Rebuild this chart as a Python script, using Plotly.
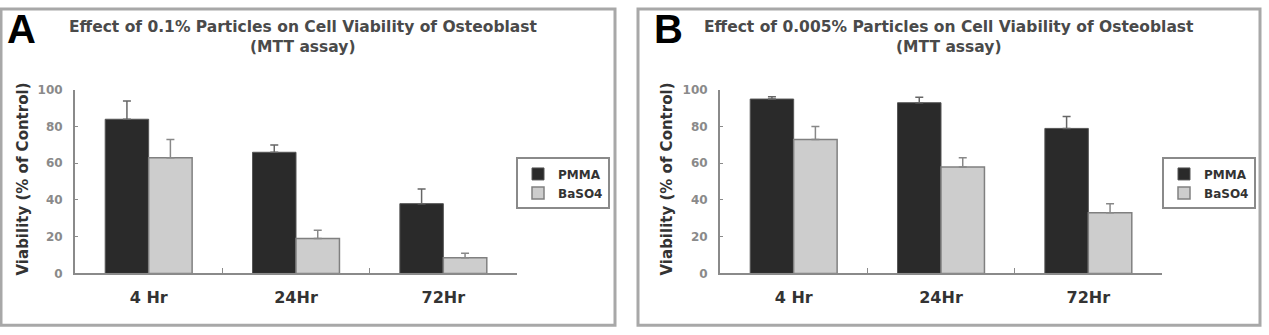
import plotly.graph_objects as go

W, H = 1269, 335

categories = ["4 Hr", "24Hr", "72Hr"]
series_names = ["PMMA", "BaSO4"]

a_pmma = [84, 66, 38]
a_pmma_err = [10, 4, 8]
a_baso4 = [63, 19, 8.5]
a_baso4_err = [10, 4.5, 2.5]

b_pmma = [95, 93, 79]
b_pmma_err = [1.2, 3, 6.5]
b_baso4 = [73, 58, 33]
b_baso4_err = [7, 5, 5]

title_a = "Effect of 0.1% Particles on Cell Viability of Osteoblast"
title_b = "Effect of 0.005% Particles on Cell Viability of Osteoblast"
subtitle = "(MTT assay)"
y_title = "Viability (% of Control)"
y_ticks = [0, 20, 40, 60, 80, 100]

FONT = "DejaVu Sans"
DARK = "#2a2a2a"
LIGHT = "#cdcdcd"


def px(x):
    return x / W


def py(y):
    return (H - y) / H


fig = go.Figure()


def add_pair(pm, pm_err, ba, ba_err, xa, ya, leg):
    fig.add_trace(go.Bar(
        x=categories, y=pm, name=series_names[0], xaxis=xa, yaxis=ya, legend=leg,
        marker=dict(color=DARK, line=dict(color="#555555", width=1)),
        error_y=dict(type="data", array=pm_err, arrayminus=[0] * len(pm_err),
                     symmetric=False, color="#666666", thickness=1.5, width=4),
    ))
    fig.add_trace(go.Bar(
        x=categories, y=ba, name=series_names[1], xaxis=xa, yaxis=ya, legend=leg,
        marker=dict(color=LIGHT, line=dict(color="#808080", width=1.5)),
        error_y=dict(type="data", array=ba_err, arrayminus=[0] * len(ba_err),
                     symmetric=False, color="#888888", thickness=1.5, width=4),
    ))


add_pair(a_pmma, a_pmma_err, a_baso4, a_baso4_err, "x", "y", "legend")
add_pair(b_pmma, b_pmma_err, b_baso4, b_baso4_err, "x2", "y2", "legend2")

ydom = [py(278), py(86.5)]
xaxis_common = dict(
    type="category", showline=True, linecolor="#8a8a8a", linewidth=2,
    ticks="inside", tickson="boundaries", ticklen=5, tickcolor="#8a8a8a",
    tickfont=dict(family=FONT, size=16, color="#333333", weight="bold"),
    ticklabelstandoff=8, showgrid=False, zeroline=False,
)
yaxis_common = dict(
    range=[0, 100], tickvals=y_ticks, showline=True, linecolor="#8a8a8a",
    linewidth=2, ticks="inside", ticklen=3, tickcolor="#8a8a8a",
    tickfont=dict(family=FONT, size=12, color="#8a8a8a", weight="bold"),
    ticklabelstandoff=8, showgrid=False, zeroline=False,
)

legend_common = dict(
    bgcolor="white", bordercolor="#8a8a8a", borderwidth=2,
    font=dict(family=FONT, size=12, color="#333333", weight="bold"),
    xanchor="right", yanchor="top", tracegroupgap=0, itemwidth=30,
)

fig.update_layout(
    width=W, height=H, margin=dict(l=0, r=0, t=0, b=0),
    paper_bgcolor="white", plot_bgcolor="white",
    barmode="group", bargap=0.41, bargroupgap=0,
    xaxis=dict(domain=[px(75), px(517)], anchor="y", **xaxis_common),
    yaxis=dict(domain=ydom, anchor="x", **yaxis_common),
    xaxis2=dict(domain=[px(720), px(1162)], anchor="y2", **xaxis_common),
    yaxis2=dict(domain=ydom, anchor="x2", **yaxis_common),
    legend=dict(x=px(610), y=py(157), **legend_common),
    legend2=dict(x=px(1256), y=py(157), **legend_common),
    showlegend=True,
)

# panel borders
for x0, x1 in [(1, 615), (638, 1260)]:
    fig.add_shape(type="rect", xref="paper", yref="paper",
                  x0=px(x0), x1=px(x1), y0=py(332), y1=py(2),
                  line=dict(color="#a8a8a8", width=3), layer="below")

annotations = []
for letter, lx in [("A", 21), ("B", 668)]:
    annotations.append(dict(text=f"<b>{letter}</b>", x=px(lx), y=py(23),
                            xref="paper", yref="paper", showarrow=False,
                            xanchor="center", yanchor="middle",
                            font=dict(family="Liberation Sans", size=40, color="#000000")))
for t, cx in [(title_a, 303), (title_b, 949)]:
    annotations.append(dict(text=f"<b>{t}</b>", x=px(cx), y=py(21),
                            xref="paper", yref="paper", showarrow=False,
                            xanchor="center", yanchor="middle",
                            font=dict(family=FONT, size=15.5, color="#4a4a4a")))
    annotations.append(dict(text=f"<b>{subtitle}</b>", x=px(cx), y=py(42),
                            xref="paper", yref="paper", showarrow=False,
                            xanchor="center", yanchor="middle",
                            font=dict(family=FONT, size=15.5, color="#4a4a4a")))
for yx in [23, 667]:
    annotations.append(dict(text=f"<b>{y_title}</b>", x=px(yx), y=py(180),
                            xref="paper", yref="paper", showarrow=False,
                            textangle=-90, xanchor="center", yanchor="middle",
                            font=dict(family=FONT, size=15, color="#333333")))
fig.update_layout(annotations=annotations)

fig.write_html("out.html")
